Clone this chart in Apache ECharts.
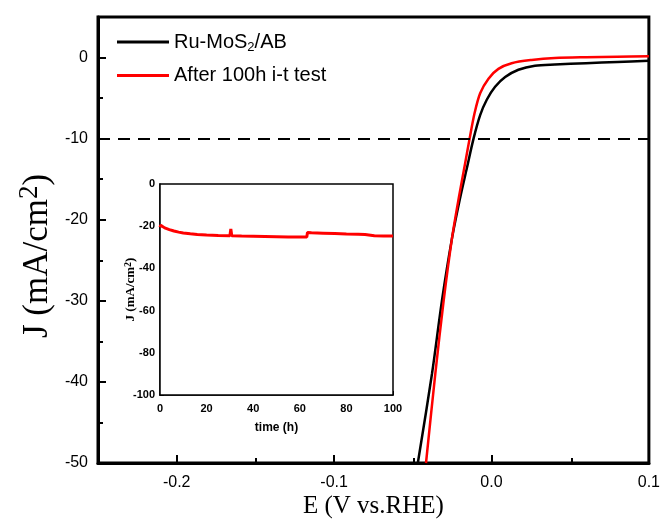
<!DOCTYPE html>
<html><head><meta charset="utf-8">
<script src="https://cdn.jsdelivr.net/npm/echarts@6/dist/echarts.min.js"></script>
<style>html,body{margin:0;padding:0;background:#fff}#c{width:663px;height:527px}</style>
</head><body><div id="c"></div>
<script>
// ---- data ----
const seriesNames = ['Ru-MoS2/AB', 'After 100h i-t test'];
const blackE = [-0.0468, -0.0378, -0.0315, -0.0251, -0.0198, -0.0156, -0.0114, -0.0072, -0.0030, 0.0023, 0.0087, 0.0171, 0.0276, 0.0403, 0.060, 0.080, 0.100];
const blackJ = [-50, -39, -30, -22.3, -17.2, -13.6, -10, -7.1, -5.2, -3.6, -2.4, -1.5, -1.0, -0.85, -0.7, -0.55, -0.4];
const redE = [-0.0416, -0.0357, -0.0304, -0.0251, -0.0205, -0.0167, -0.0139, -0.0108, -0.0072, -0.0019, 0.0044, 0.0128, 0.0255, 0.0403, 0.060, 0.080, 0.100];
const redJ = [-50, -39, -30, -22.3, -17, -13, -10, -6.9, -4.4, -2.6, -1.4, -0.7, -0.3, -0.05, 0.05, 0.1, 0.15];
const refJ = -10;
const insetTime = [0, 0.3, 0.8, 2, 4, 6, 8, 10, 13, 16, 20, 25, 30, 30.4, 30.8, 31.2, 35, 40, 45, 50, 55, 60, 63, 63.3, 65, 70, 75, 80, 85, 88, 88.3, 92, 96, 100];
const insetJ = [-20.5, -19.5, -20.2, -20.8, -21.6, -22.3, -22.8, -23.2, -23.6, -23.9, -24.2, -24.4, -24.5, -21.3, -24.5, -24.6, -24.7, -24.8, -24.9, -25.0, -25.1, -25.1, -25.1, -23.0, -23.1, -23.3, -23.5, -23.7, -23.8, -23.9, -24.4, -24.5, -24.6, -24.7];
const xMajorTicks = [-0.2, -0.1, 0, 0.1];
const xMinorTicks = [-0.15, -0.05, 0.05];

const zip = (a, b) => a.map((v, i) => [v, b[i]]);
const chart = echarts.init(document.getElementById('c'), null, {renderer: 'canvas'});
const sans = 'Liberation Sans, Arial, sans-serif';
const serif = 'Liberation Serif, Times New Roman, serif';

chart.setOption({
  animation: false,
  backgroundColor: '#fff',
  legend: {
    data: seriesNames,
    orient: 'vertical', left: 112, top: 27,
    icon: 'rect', itemWidth: 52, itemHeight: 3, itemGap: 12,
    formatter: n => n === 'Ru-MoS2/AB' ? 'Ru-MoS{sub|2}/AB' : n,
    textStyle: {fontSize: 20, fontFamily: sans, color: '#000',
      rich: {sub: {fontSize: 13, fontFamily: sans, color: '#000', padding: [10, 0, 0, 0]}}}
  },
  grid: [
    {left: 98, top: 17, width: 553, height: 446, show: true, borderColor: '#000', borderWidth: 3, backgroundColor: 'transparent'},
    {left: 98, top: 17, width: 553, height: 446, show: false},
    {left: 160, top: 184, width: 233, height: 211, show: true, borderColor: '#000', borderWidth: 1.5, backgroundColor: '#fff', z: 5}
  ],
  xAxis: [
    {type: 'value', gridIndex: 0, min: -0.25, max: 0.1, position: 'bottom',
     name: 'E (V vs.RHE)', nameLocation: 'middle', nameGap: 31, nameMoveOverlap: false,
     nameTextStyle: {fontFamily: serif, fontSize: 25, color: '#000'},
     axisLine: {onZero: false, lineStyle: {color: '#000', width: 3}},
     axisTick: {inside: true, length: 8, lineStyle: {width: 2, color: '#000'}, customValues: xMajorTicks},
     axisLabel: {customValues: xMajorTicks, fontFamily: sans, fontSize: 16, color: '#000', margin: 12,
       formatter: v => v.toFixed(1)},
     splitLine: {show: false}},
    {type: 'value', gridIndex: 1, min: -0.25, max: 0.1, position: 'bottom',
     axisLine: {show: false, onZero: false},
     axisTick: {inside: true, length: 5, lineStyle: {width: 2, color: '#000'}, customValues: xMinorTicks},
     axisLabel: {show: false}, splitLine: {show: false}},
    {type: 'value', gridIndex: 2, min: 0, max: 100, interval: 20,
     name: 'time (h)', nameLocation: 'middle', nameGap: 27, nameMoveOverlap: false,
     nameTextStyle: {fontFamily: sans, fontSize: 12, fontWeight: 'bold', color: '#000'},
     axisLine: {onZero: false, lineStyle: {color: '#000', width: 1.5}},
     axisTick: {inside: true, length: 4, lineStyle: {color: '#000'}},
     minorTick: {show: true, splitNumber: 2, length: 2, lineStyle: {color: '#000'}},
     axisLabel: {fontFamily: sans, fontSize: 11, fontWeight: 'bold', color: '#000', margin: 8},
     splitLine: {show: false}}
  ],
  yAxis: [
    {type: 'value', gridIndex: 0, min: -50, max: 5, interval: 10,
     name: 'J (mA/cm{sup|2})', nameLocation: 'middle', nameGap: 39, nameRotate: 90, nameMoveOverlap: false,
     nameTextStyle: {fontFamily: serif, fontSize: 35, color: '#000', padding: [0, 32, 0, 0],
       rich: {sup: {fontFamily: serif, fontSize: 27, color: '#000', padding: [0, 0, 16, 0]}}},
     axisLine: {onZero: false, lineStyle: {color: '#000', width: 3}},
     axisTick: {inside: true, length: 8, lineStyle: {width: 2, color: '#000'}},
     minorTick: {show: true, splitNumber: 2, length: 5, lineStyle: {width: 2, color: '#000'}},
     axisLabel: {fontFamily: sans, fontSize: 16, color: '#000', margin: 10, showMaxLabel: false},
     splitLine: {show: false}},
    {type: 'value', gridIndex: 1, min: -50, max: 5, show: false},
    {type: 'value', gridIndex: 2, min: -100, max: 0, interval: 20,
     name: 'J (mA/cm{sup|2})', nameLocation: 'middle', nameGap: 21, nameRotate: 90, nameMoveOverlap: false,
     nameTextStyle: {fontFamily: serif, fontSize: 13, fontWeight: 'bold', color: '#000',
       rich: {sup: {fontFamily: serif, fontSize: 10, fontWeight: 'bold', color: '#000', padding: [0, 0, 6, 0]}}},
     axisLine: {onZero: false, lineStyle: {color: '#000', width: 1.5}},
     axisTick: {inside: true, length: 4, lineStyle: {color: '#000'}},
     minorTick: {show: true, splitNumber: 2, length: 2, lineStyle: {color: '#000'}},
     axisLabel: {fontFamily: sans, fontSize: 11, fontWeight: 'bold', color: '#000', margin: 5},
     splitLine: {show: false}}
  ],
  series: [
    {name: seriesNames[0], type: 'line', xAxisIndex: 0, yAxisIndex: 0, data: zip(blackE, blackJ),
     symbol: 'none', smooth: 0.3, lineStyle: {color: '#000', width: 2.5}, itemStyle: {color: '#000'},
     markLine: {silent: true, symbol: 'none', label: {show: false},
       lineStyle: {color: '#000', width: 2, type: [12, 8]}, data: [{yAxis: refJ}]}},
    {name: seriesNames[1], type: 'line', xAxisIndex: 0, yAxisIndex: 0, data: zip(redE, redJ),
     symbol: 'none', smooth: 0.3, lineStyle: {color: '#f00', width: 2.5}, itemStyle: {color: '#f00'}},
    {name: 'inset', type: 'line', xAxisIndex: 2, yAxisIndex: 2, data: zip(insetTime, insetJ), z: 6,
     symbol: 'none', lineStyle: {color: '#f00', width: 3}, itemStyle: {color: '#f00'}}
  ]
});
</script></body></html>
